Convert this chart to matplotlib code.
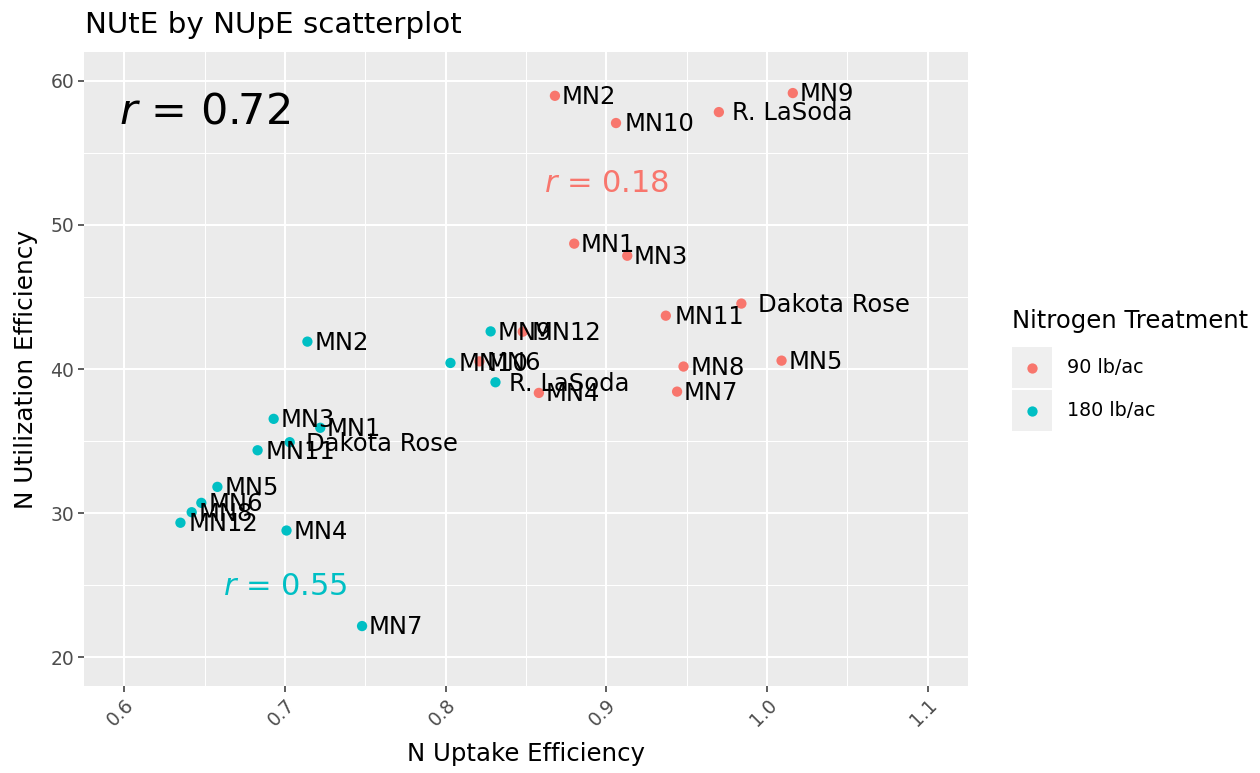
import matplotlib

matplotlib.use("Agg")
from matplotlib import pyplot as plt
from matplotlib.lines import Line2D
from matplotlib.patches import Rectangle

# data
genotypes_90 = ["MN2", "MN9", "R. LaSoda", "MN10", "MN1", "MN3", "Dakota Rose",
                "MN11", "MN12", "MN6", "MN4", "MN8", "MN5", "MN7"]
nupe_90 = [0.868, 1.016, 0.970, 0.906, 0.880, 0.913, 0.984,
           0.937, 0.848, 0.821, 0.858, 0.948, 1.009, 0.944]
nute_90 = [58.96, 59.15, 57.83, 57.07, 48.70, 47.86, 44.54,
           43.70, 42.59, 40.53, 38.34, 40.17, 40.58, 38.43]

genotypes_180 = ["MN9", "MN10", "R. LaSoda", "MN2", "MN3", "MN1", "Dakota Rose",
                 "MN11", "MN5", "MN6", "MN8", "MN12", "MN4", "MN7"]
nupe_180 = [0.828, 0.803, 0.831, 0.714, 0.693, 0.722, 0.703,
            0.683, 0.658, 0.648, 0.642, 0.635, 0.701, 0.748]
nute_180 = [42.61, 40.42, 39.08, 41.90, 36.54, 35.92, 34.92,
            34.36, 31.82, 30.71, 30.06, 29.33, 28.79, 22.16]

treatments = ["90 lb/ac", "180 lb/ac"]
colors = ["#F8766D", "#00BFC4"]

r_all = "0.72"
r_90 = "0.18"
r_180 = "0.55"

plt.rcParams["font.family"] = ["DejaVu Sans"]
plt.rcParams["mathtext.fontset"] = "dejavusans"

W, H = 1260, 773
fig = plt.figure(figsize=(W / 100, H / 100), dpi=100)
fig.patch.set_facecolor("white")


def fpos(x, y):
    # pixel position -> figure fraction
    return x / W, 1 - y / H


ax = fig.add_axes([84 / W, 1 - 686 / H, 884 / W, 634 / H])
ax.set_facecolor("#EBEBEB")
for s in ax.spines.values():
    s.set_visible(False)

ax.set_xlim(0.575, 1.125)
ax.set_ylim(18, 62)
ax.set_xticks([0.6, 0.7, 0.8, 0.9, 1.0, 1.1])
ax.set_xticklabels(["0.6", "0.7", "0.8", "0.9", "1.0", "1.1"])
ax.set_xticks([0.65, 0.75, 0.85, 0.95, 1.05], minor=True)
ax.set_yticks([20, 30, 40, 50, 60])
ax.set_yticks([25, 35, 45, 55], minor=True)
ax.grid(which="major", color="white", linewidth=1.5)
ax.grid(which="minor", color="white", linewidth=0.75)
ax.set_axisbelow(True)
ax.tick_params(which="major", length=4, width=1.1, color="#333333",
               labelcolor="#4D4D4D", labelsize=13.5, pad=3)
ax.tick_params(which="minor", length=0)
plt.setp(ax.get_xticklabels(), rotation=45, ha="right", rotation_mode="anchor")

ax.set_xlabel("N Uptake Efficiency", fontsize=17.6, color="black")
ax.set_ylabel("N Utilization Efficiency", fontsize=17.8, color="black")
ax.xaxis.set_label_coords(0.5, -0.088)
ax.yaxis.set_label_coords(-0.052, 0.5)

# points and labels (labels nudged right by a tenth of their width, like hjust=-0.1)
labels = []
for xs, ys, names, col in [(nupe_90, nute_90, genotypes_90, colors[0]),
                           (nupe_180, nute_180, genotypes_180, colors[1])]:
    ax.scatter(xs, ys, s=55, color=col, edgecolors="none", zorder=3)
    for x, y, name in zip(xs, ys, names):
        t = ax.annotate(name, (x, y), xytext=(0, -1), textcoords="offset points",
                        ha="left", va="center", fontsize=17.5, color="black",
                        zorder=4)
        labels.append(t)

renderer = fig.canvas.get_renderer()
for t in labels:
    wpx = t.get_window_extent(renderer).width
    t.set_position((0.1 * wpx * 72 / 100 + 1.0, -1))

# correlation annotations
ax.text(0.65, 57.9, r"$\mathit{r}$ = " + r_all, fontsize=31, color="black",
        ha="center", va="center")
ax.text(0.9, 52.9, r"$\mathit{r}$ = " + r_90, fontsize=22, color=colors[0],
        ha="center", va="center")
ax.text(0.7, 24.9, r"$\mathit{r}$ = " + r_180, fontsize=22, color=colors[1],
        ha="center", va="center")

# title
fig.text(*fpos(85, 33), "NUtE by NUpE scatterplot", fontsize=21.2,
         color="black", ha="left", va="baseline")

# legend drawn by hand (ggplot style keys)
fig.text(*fpos(1012, 328), "Nitrogen Treatment", fontsize=17.5,
         color="black", ha="left", va="baseline")
for i, (lab, col) in enumerate(zip(treatments, colors)):
    top = 347 + i * 43
    x0, y0 = fpos(1012, top + 41)
    fig.add_artist(Rectangle((x0, y0), 40 / W, 41 / H, transform=fig.transFigure,
                             facecolor="#EFEFEF", edgecolor="none"))
    cx, cy = fpos(1032, top + 20.5)
    fig.add_artist(Line2D([cx], [cy], marker="o", markersize=7.4, color=col,
                          markeredgewidth=0, transform=fig.transFigure))
    tx, ty = fpos(1067, top + 20.5)
    fig.text(tx, ty, lab, fontsize=13.8, color="black", ha="left", va="center")

fig.savefig("out.png", dpi=100)
